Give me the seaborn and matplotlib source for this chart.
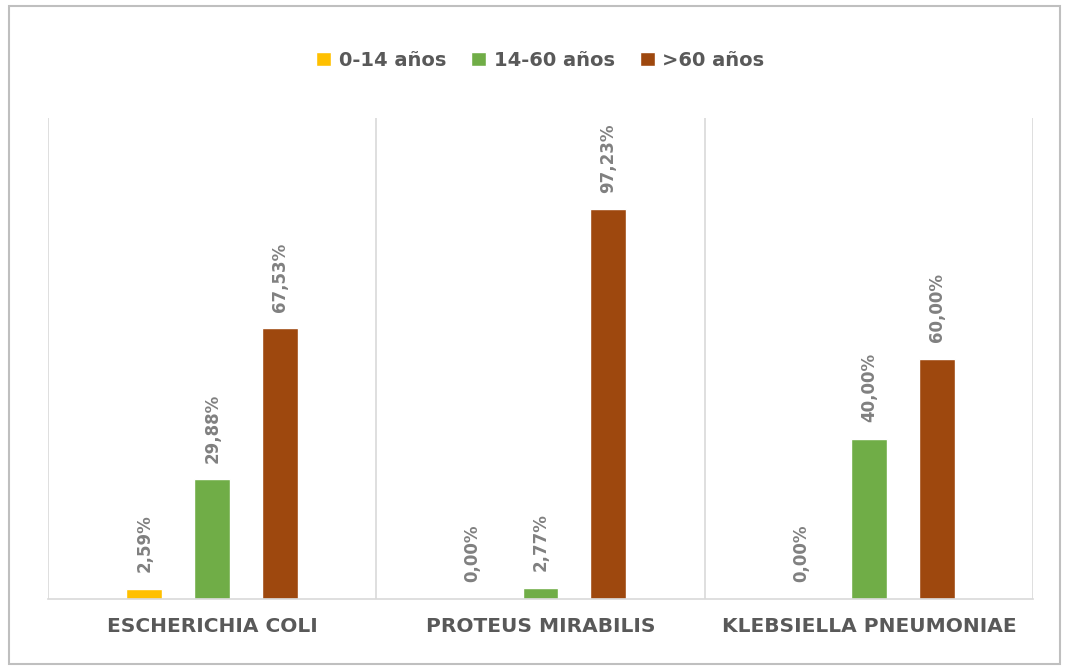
import matplotlib
matplotlib.use("Agg")
import matplotlib.pyplot as plt
import seaborn as sns
import pandas as pd
from matplotlib.patches import Rectangle

categories = ["ESCHERICHIA COLI", "PROTEUS MIRABILIS", "KLEBSIELLA PNEUMONIAE"]
series_names = ["0-14 años", "14-60 años", ">60 años"]
v_0_14 = [2.59, 0.00, 0.00]
v_14_60 = [29.88, 2.77, 40.00]
v_60 = [67.53, 97.23, 60.00]
colors = ["#FFC000", "#70AD47", "#9E480E"]

rows = []
for s, vals in zip(series_names, [v_0_14, v_14_60, v_60]):
    for c, v in zip(categories, vals):
        rows.append({"cat": c, "serie": s, "val": v})
df = pd.DataFrame(rows)

sns.set_theme(style="white")
plt.rcParams['font.family'] = ['DejaVu Sans']

fig = plt.figure(figsize=(10.65, 6.7), dpi=100)
ax = fig.add_axes([48/1065, 71/670, (1033-48)/1065, (599-118)/670])

sns.barplot(data=df, x="cat", y="val", hue="serie", order=categories,
            hue_order=series_names, palette=colors, width=0.62, gap=0.47,
            ax=ax, legend=True, saturation=1)

ax.set_ylim(0, 120)
ax.set_xlim(-0.5, 2.5)
ax.set_yticks([])
ax.set_xlabel("")
ax.set_ylabel("")
for sp in ["top", "right", "left"]:
    ax.spines[sp].set_visible(False)
ax.spines["bottom"].set_color("#D9D9D9")
ax.spines["bottom"].set_linewidth(1.2)
for xv in [-0.5, 0.5, 1.5, 2.5]:
    ax.axvline(xv, color="#D9D9D9", lw=1.2, zorder=0)

ax.tick_params(axis="x", length=0, pad=13)
for lab in ax.get_xticklabels():
    lab.set_fontsize(14.5)
    lab.set_fontweight("bold")
    lab.set_color("#595959")

for cont in ax.containers:
    for bar in cont:
        h = bar.get_height()
        txt = f"{h:.2f}".replace(".", ",") + "%"
        ax.annotate(txt, (bar.get_x() + bar.get_width()/2, h),
                    xytext=(0, 12), textcoords="offset points",
                    rotation=90, ha="center", va="bottom",
                    fontsize=12, fontweight="bold", color="#808080")

leg = ax.legend(loc="center", bbox_to_anchor=(0.5, 1.12), ncol=3, frameon=False,
                fontsize=14, handlelength=0.75, handleheight=0.75, handletextpad=0.4,
                columnspacing=1.3)
for t in leg.get_texts():
    t.set_fontweight("bold")
    t.set_color("#595959")

# frame around the chart image
fig.patches.append(Rectangle((9/1065, 6/670), (1060-9)/1065, (664-6)/670,
                             transform=fig.transFigure, fill=False,
                             edgecolor="#BFBFBF", lw=1.5))

fig.savefig("out.png", dpi=100)
